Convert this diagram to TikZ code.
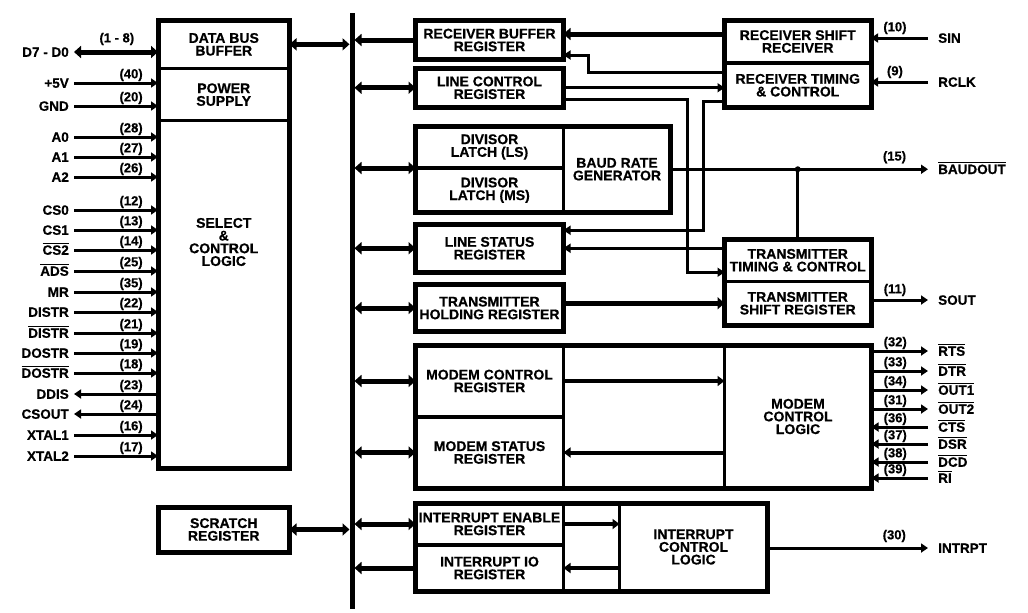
\documentclass[tikz,border=0pt]{standalone}
\usepackage{fontspec}
\setmainfont{Liberation Sans}[FakeBold=0.6]
\usetikzlibrary{arrows.meta, positioning, calc}
\newcommand{\blkfont}{\bfseries\fontsize{14}{12.7}\selectfont}
\newcommand{\pinfont}{\bfseries\fontsize{13.5}{14}\selectfont}
\newcommand{\numfont}{\bfseries\fontsize{13}{13}\selectfont}
\newcommand{\barsig}[1]{\setbox0=\hbox{#1}\rlap{\rule[\dimexpr\ht0+1.5pt\relax]{\wd0}{1.2pt}}\box0}
\tikzset{
    cell/.style={rectangle, draw, line width=3.5pt, inner sep=0pt, outer sep=0pt, align=center, font=\blkfont},
    reg/.style={cell, line width=5pt},
    grpframe/.style={line width=5pt},
    wire/.style={line width=3pt},
    sig/.style={wire, -{Triangle[length=7pt, width=9pt]}},
    midsig/.style={line width=4pt, -{Triangle[length=7pt, width=10pt]}},
    thicksig/.style={line width=5pt, -{Triangle[length=7pt, width=12pt]}},
    bidir/.style={line width=5pt, {Triangle[length=7pt, width=12pt]}-{Triangle[length=7pt, width=12pt]}},
    pinlbl/.style={inner ysep=0pt, inner xsep=5pt, text height=9.5pt, text depth=0pt, font=\pinfont},
    pinr/.style={pinlbl, anchor=west, inner xsep=10pt},
    pinl/.style={pinlbl, anchor=east},
    pinnum/.style={font=\numfont, inner sep=0.5pt},
}
\begin{document}
\begin{tikzpicture}[x=1pt, y=-1pt]
    \useasboundingbox (0,0) rectangle (1028,613);

    % Data bus
    \node[fill, minimum width=5pt, minimum height=596pt, inner sep=0pt, outer sep=0pt] (bus) at (352,311) {};

    % Left block: buffer, power, select
    \node[cell, minimum width=131.5pt, minimum height=48.7pt] (dbb) at (223.75,44.35) {DATA BUS\\BUFFER};
    \node[cell, minimum width=131.5pt, minimum height=51.8pt, below=0pt of dbb] (pwr) {POWER\\SUPPLY};
    \node[cell, minimum width=131.5pt, minimum height=348pt, below=0pt of pwr] (sel) {};
    \node[font=\blkfont, align=center] (seltxt) at (223.75,242) {SELECT\\\&\\CONTROL\\LOGIC};
    \draw[grpframe] (dbb.north west) rectangle (sel.south east);
    \node[reg, minimum width=131.5pt, minimum height=45pt] (scr) at (223.75,529.5) {SCRATCH\\REGISTER};

    % Register column
    \node[reg, minimum width=148pt, minimum height=39pt] (rbr) at (489.5,40) {RECEIVER BUFFER\\REGISTER};
    \node[reg, minimum width=148pt, minimum height=39.5pt] (lcr) at (489.5,87.75) {LINE CONTROL\\REGISTER};
    \node[cell, minimum width=148pt, minimum height=42pt] (dlls) at (489.5,147) {DIVISOR\\LATCH (LS)};
    \node[cell, minimum width=148pt, minimum height=44.5pt, below=0pt of dlls] (dlms) {DIVISOR\\LATCH (MS)};
    \node[cell, minimum width=107pt, minimum height=86.5pt, anchor=north west] (brg) at (dlls.north east) {BAUD RATE\\GENERATOR};
    \draw[grpframe] (dlls.north west) rectangle (brg.south east);
    \node[reg, minimum width=148pt, minimum height=47.5pt] (lsr) at (489.5,248.25) {LINE STATUS\\REGISTER};
    \node[reg, minimum width=148pt, minimum height=47pt] (thr) at (489.5,308) {TRANSMITTER\\HOLDING REGISTER};

    % Modem group
    \node[cell, minimum width=148pt, minimum height=72pt] (mcr) at (489.5,381) {MODEM CONTROL\\REGISTER};
    \node[cell, minimum width=148pt, minimum height=71pt, below=0pt of mcr] (msr) {MODEM STATUS\\REGISTER};
    \node[cell, minimum width=147pt, minimum height=143pt] (mcl) at (798,416.5) {MODEM\\CONTROL\\LOGIC};
    \draw[grpframe] (mcr.north west) rectangle (mcl.south east);

    % Interrupt group
    \node[cell, minimum width=148pt, minimum height=42pt] (ier) at (489.5,524) {INTERRUPT ENABLE\\REGISTER};
    \node[cell, minimum width=148pt, minimum height=46pt, below=0pt of ier] (iir) {INTERRUPT IO\\REGISTER};
    \node[cell, minimum width=148pt, minimum height=88pt] (icl) at (693.5,547) {INTERRUPT\\CONTROL\\LOGIC};
    \draw[grpframe] (ier.north west) rectangle (icl.south east);

    % Receiver / transmitter
    \node[cell, minimum width=146.5pt, minimum height=43pt] (rsr) at (797.75,41.5) {RECEIVER SHIFT\\RECEIVER};
    \node[cell, minimum width=146.5pt, minimum height=44.5pt, below=0pt of rsr] (rtc) {RECEIVER TIMING\\\& CONTROL};
    \draw[grpframe] (rsr.north west) rectangle (rtc.south east);
    \node[cell, minimum width=146.5pt, minimum height=42.5pt] (ttc) at (797.75,260.25) {TRANSMITTER\\TIMING \& CONTROL};
    \node[cell, minimum width=146.5pt, minimum height=43.5pt, below=0pt of ttc] (tsr) {TRANSMITTER\\SHIFT REGISTER};
    \draw[grpframe] (ttc.north west) rectangle (tsr.south east);

    % Bus connections
    \draw[bidir] (dbb.east) -- (dbb.east -| bus.west);
    \draw[bidir] (scr.east) -- (scr.east -| bus.west);
    \draw[thicksig] (rbr.west) -- (rbr.west -| bus.east);
    \draw[bidir] (lcr.west) -- (lcr.west -| bus.east);
    \draw[bidir] (dlls.south west) -- (dlls.south west -| bus.east);
    \draw[bidir] (lsr.west) -- (lsr.west -| bus.east);
    \draw[bidir] (thr.west) -- (thr.west -| bus.east);
    \draw[bidir] (mcr.west) -- (mcr.west -| bus.east);
    \draw[bidir] (msr.west) -- (msr.west -| bus.east);
    \draw[bidir] (ier.west) -- (ier.west -| bus.east);
    \draw[thicksig] (iir.west) -- (iir.west -| bus.east);

    % Internal connections
    \draw[thicksig] ($(rsr.west)+(0,-7.5)$) -- ($(rbr.east)+(0,-6)$);
    \draw[sig] ($(rtc.west)+(0,-13)$) -| ($(rbr.east)+(25,15)$) -- ($(rbr.east)+(0,15)$);
    \draw[sig] (lcr.east) -- (lcr.east -| rtc.west);
    \draw[sig] ($(lcr.east)+(0,12)$) -| ($(ttc.west)+(-37.5,12)$) -- ($(ttc.west)+(0,12)$);
    \draw[sig] ($(rtc.west)+(0,16.5)$) -| ($(lsr.east)+(139.5,-18)$) -- ($(lsr.east)+(0,-18)$);
    \draw[sig] (lsr.east -| ttc.west) -- (lsr.east);
    \draw[thicksig] (tsr.west -| thr.east) -- (tsr.west);
    \draw[midsig] (mcr.east) -- (mcr.east -| mcl.west);
    \draw[midsig] (msr.east -| mcl.west) -- (msr.east);
    \draw[midsig] (ier.east) -- (ier.east -| icl.west);
    \draw[midsig] (iir.east -| icl.west) -- (iir.east);

    % Left pins
    \node[pinl] (pd) at (74,52) {D7 - D0};
    \node[pinl] (pvcc) at (74,83) {+5V};
    \node[pinl] (pgnd) at (74,106) {GND};
    \node[pinl] (pa0) at (74,137) {A0};
    \node[pinl] (pa1) at (74,157) {A1};
    \node[pinl] (pa2) at (74,177) {A2};
    \node[pinl] (pcs0) at (74,210) {CS0};
    \node[pinl] (pcs1) at (74,230) {CS1};
    \node[pinl] (pcs2) at (74,250) {\barsig{CS2}};
    \node[pinl] (pads) at (74,271) {\barsig{ADS}};
    \node[pinl] (pmr) at (74,292) {MR};
    \node[pinl] (pdistr) at (74,312) {DISTR};
    \node[pinl] (pdistrn) at (74,333) {\barsig{DISTR}};
    \node[pinl] (pdostr) at (74,353) {DOSTR};
    \node[pinl] (pdostrn) at (74,373) {\barsig{DOSTR}};
    \node[pinl] (pddis) at (74,394) {DDIS};
    \node[pinl] (pcsout) at (74,414) {CSOUT};
    \node[pinl] (px1) at (74,435) {XTAL1};
    \node[pinl] (px2) at (74,456) {XTAL2};

    \draw[bidir] (pd) -- (pd -| dbb.west) node[pinnum, pos=.51, above=4pt] {(1 - 8)};
    \draw[sig] (pvcc) -- (pvcc -| pwr.west) node[pinnum, pos=.68, above] {(40)};
    \draw[sig] (pgnd) -- (pgnd -| pwr.west) node[pinnum, pos=.68, above] {(20)};
    \draw[sig] (pa0) -- (pa0 -| sel.west) node[pinnum, pos=.68, above] {(28)};
    \draw[sig] (pa1) -- (pa1 -| sel.west) node[pinnum, pos=.68, above] {(27)};
    \draw[sig] (pa2) -- (pa2 -| sel.west) node[pinnum, pos=.68, above] {(26)};
    \draw[sig] (pcs0) -- (pcs0 -| sel.west) node[pinnum, pos=.68, above] {(12)};
    \draw[sig] (pcs1) -- (pcs1 -| sel.west) node[pinnum, pos=.68, above] {(13)};
    \draw[sig] (pcs2) -- (pcs2 -| sel.west) node[pinnum, pos=.68, above] {(14)};
    \draw[sig] (pads) -- (pads -| sel.west) node[pinnum, pos=.68, above] {(25)};
    \draw[sig] (pmr) -- (pmr -| sel.west) node[pinnum, pos=.68, above] {(35)};
    \draw[sig] (pdistr) -- (pdistr -| sel.west) node[pinnum, pos=.68, above] {(22)};
    \draw[sig] (pdistrn) -- (pdistrn -| sel.west) node[pinnum, pos=.68, above] {(21)};
    \draw[sig] (pdostr) -- (pdostr -| sel.west) node[pinnum, pos=.68, above] {(19)};
    \draw[sig] (pdostrn) -- (pdostrn -| sel.west) node[pinnum, pos=.68, above] {(18)};
    \draw[sig] (sel.west |- pddis) -- (pddis) node[pinnum, pos=.32, above] {(23)};
    \draw[sig] (sel.west |- pcsout) -- (pcsout) node[pinnum, pos=.32, above] {(24)};
    \draw[sig] (px1) -- (px1 -| sel.west) node[pinnum, pos=.68, above] {(16)};
    \draw[sig] (px2) -- (px2 -| sel.west) node[pinnum, pos=.68, above] {(17)};

    % Right pins
    \node[pinr] (psin) at (928,38) {SIN};
    \node[pinr] (prclk) at (928,82) {RCLK};
    \node[pinr] (pbaud) at (928,169.25) {\barsig{BAUDOUT}};
    \node[pinr] (psout) at (928,300) {SOUT};
    \node[pinr] (prts) at (928,351) {\barsig{RTS}};
    \node[pinr] (pdtr) at (928,371) {\barsig{DTR}};
    \node[pinr] (pout1) at (928,390) {\barsig{OUT1}};
    \node[pinr] (pout2) at (928,409) {\barsig{OUT2}};
    \node[pinr] (pcts) at (928,427) {\barsig{CTS}};
    \node[pinr] (pdsr) at (928,444) {\barsig{DSR}};
    \node[pinr] (pdcd) at (928,462) {\barsig{DCD}};
    \node[pinr] (pri) at (928,478) {\barsig{RI}};
    \node[pinr] (pint) at (928,548) {INTRPT};

    \draw[sig] (psin) -- (psin -| rsr.east) node[pinnum, pos=.58, above=2pt] {(10)};
    \draw[sig] (prclk) -- (prclk -| rtc.east) node[pinnum, pos=.58, above=2pt] {(9)};
    \draw[sig] (brg.east) -- (pbaud) node[pinnum, pos=.87, above=4pt] {(15)};
    \coordinate (jct) at (ttc.north |- brg.east);
    \draw[wire] (ttc.north) -- (jct);
    \fill (jct) circle (3pt);
    \draw[sig] (tsr.east |- psout) -- (psout) node[pinnum, pos=.42, above=2pt] {(11)};
    \draw[sig] (mcl.east |- prts) -- (prts) node[pinnum, pos=.42, above] {(32)};
    \draw[sig] (mcl.east |- pdtr) -- (pdtr) node[pinnum, pos=.42, above] {(33)};
    \draw[sig] (mcl.east |- pout1) -- (pout1) node[pinnum, pos=.42, above] {(34)};
    \draw[sig] (mcl.east |- pout2) -- (pout2) node[pinnum, pos=.42, above] {(31)};
    \draw[sig] (pcts) -- (pcts -| mcl.east) node[pinnum, pos=.58, above] {(36)};
    \draw[sig] (pdsr) -- (pdsr -| mcl.east) node[pinnum, pos=.58, above] {(37)};
    \draw[sig] (pdcd) -- (pdcd -| mcl.east) node[pinnum, pos=.58, above] {(38)};
    \draw[sig] (pri) -- (pri -| mcl.east) node[pinnum, pos=.58, above] {(39)};
    \draw[sig] (icl.east |- pint) -- (pint) node[pinnum, pos=.79, above=4pt] {(30)};
\end{tikzpicture}
\end{document}
